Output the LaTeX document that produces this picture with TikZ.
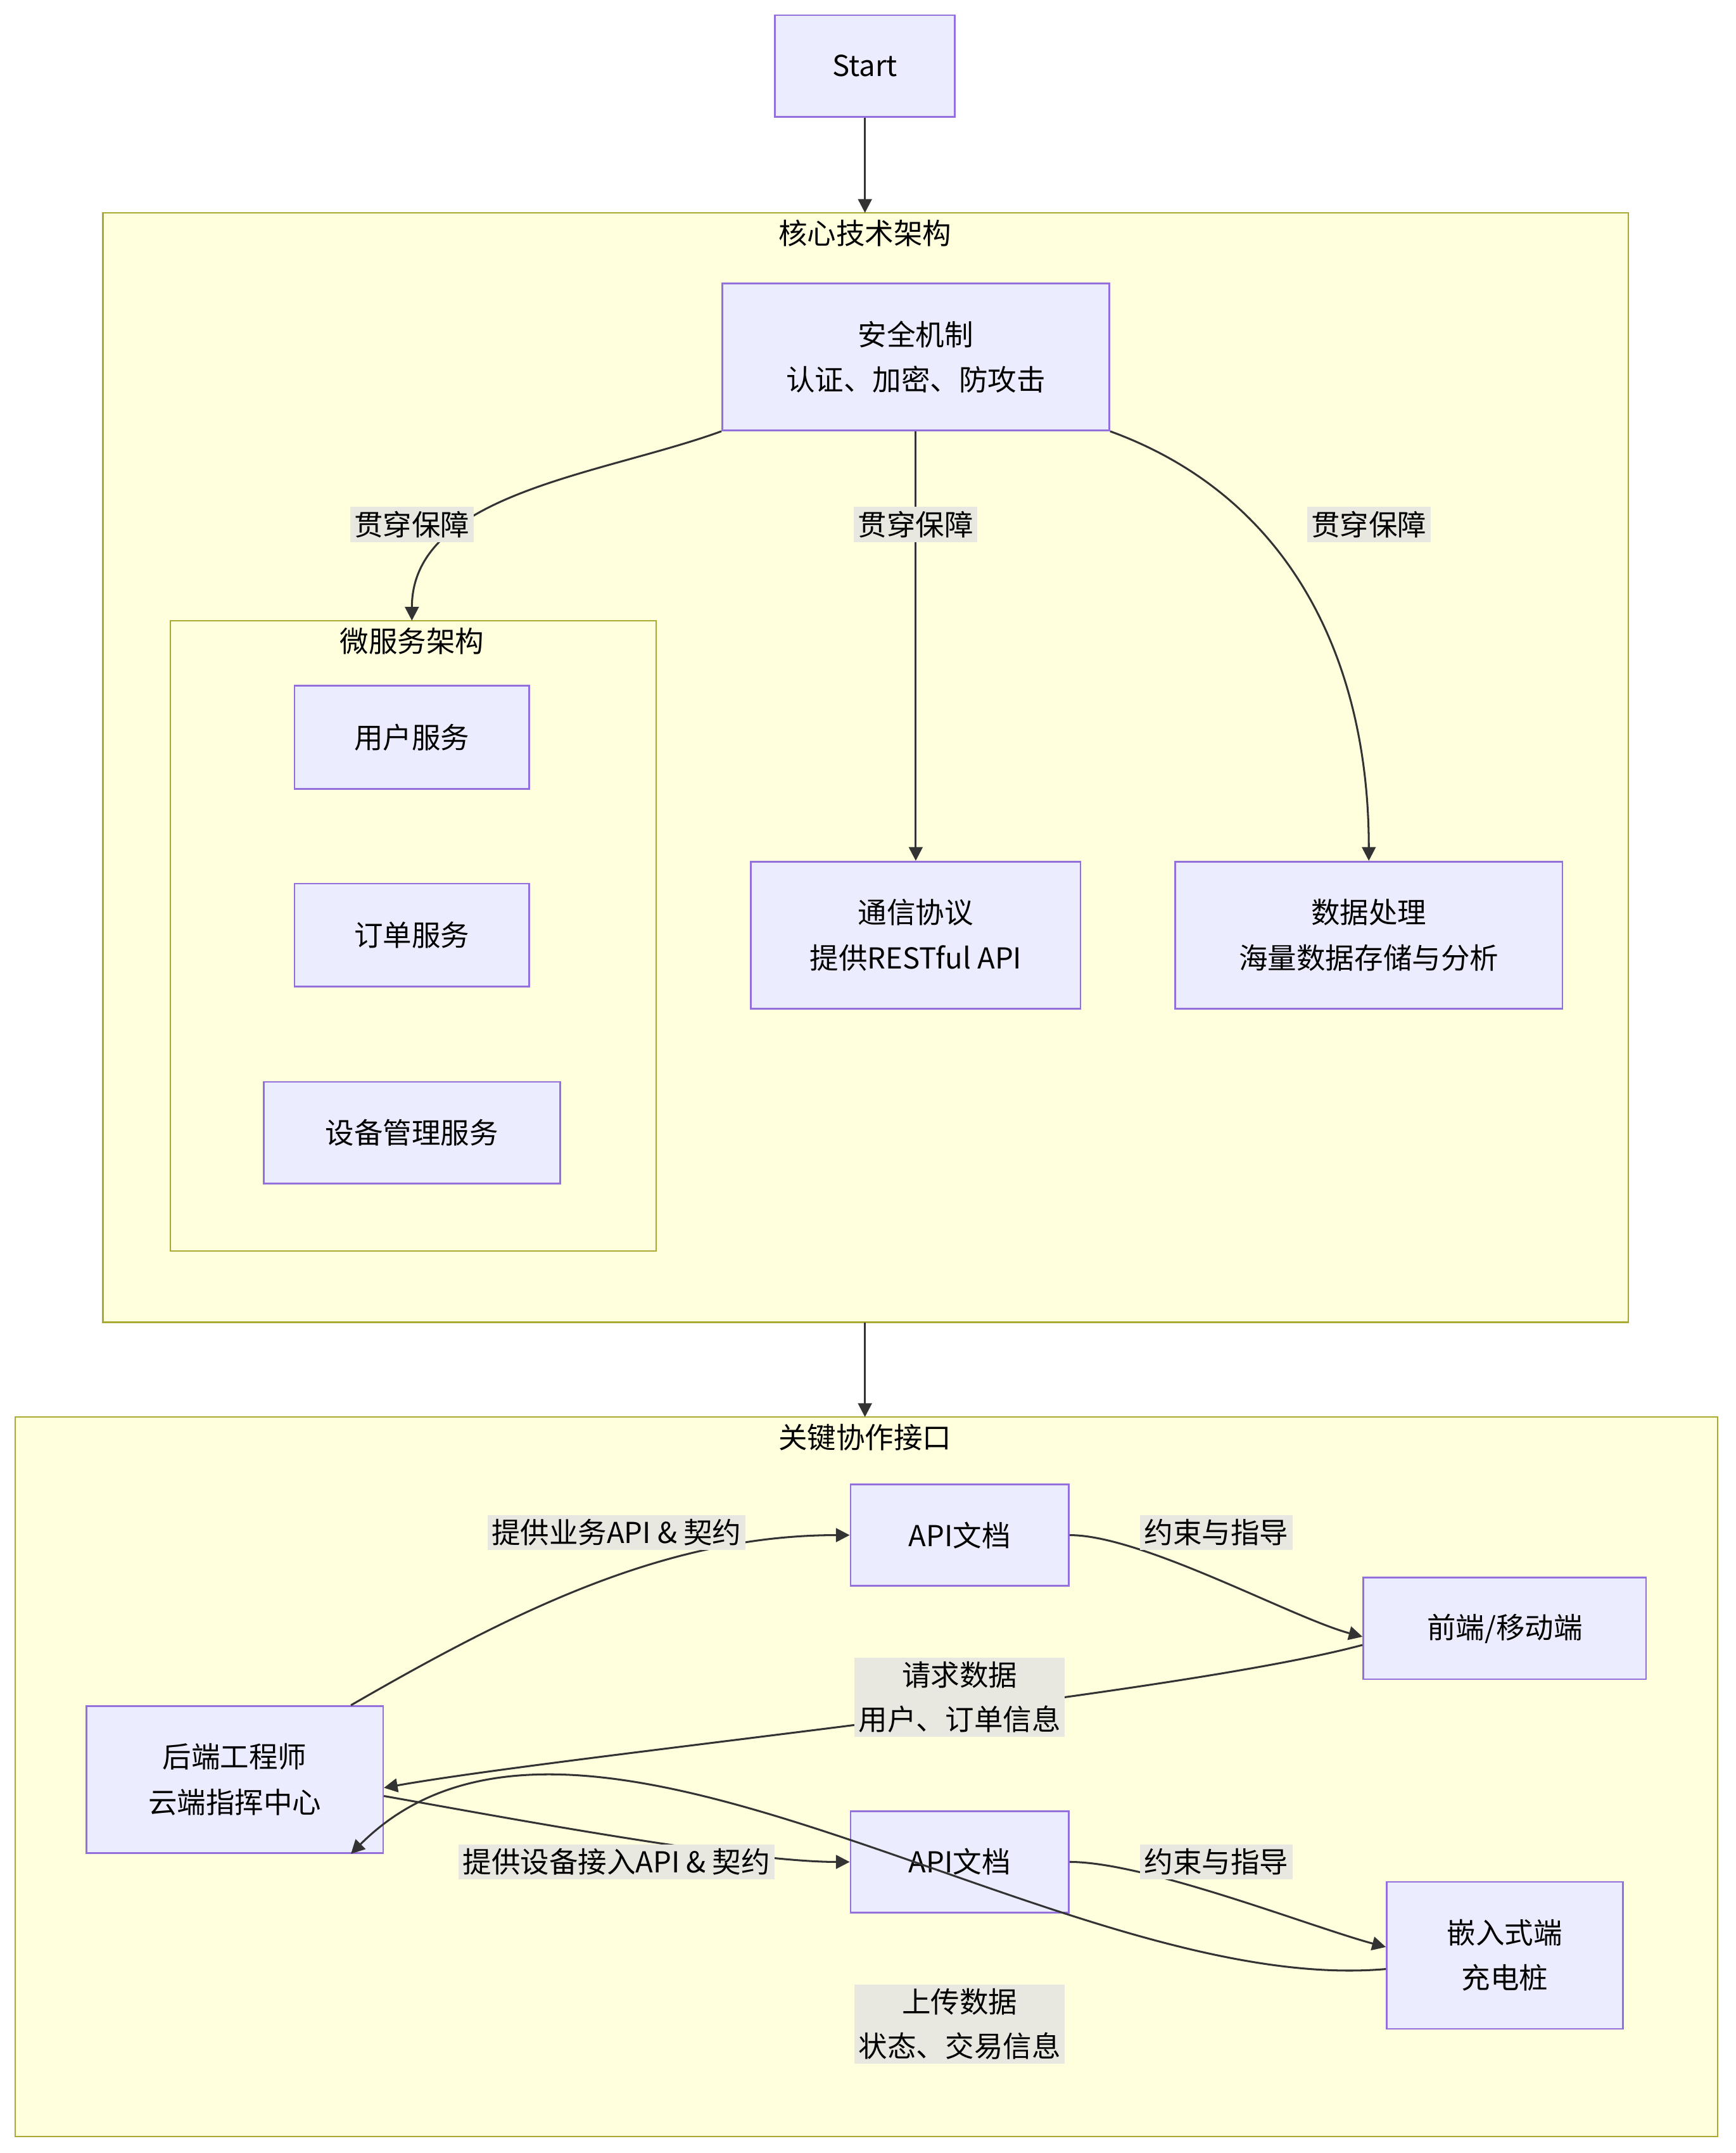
\documentclass[tikz,border=0pt]{standalone}
\usepackage{fontspec}
\setmainfont{Noto Sans CJK SC}
\usetikzlibrary{arrows.meta}
\tikzset{
  box/.style={draw=boxline,fill=boxfill,line width=0.6pt,align=center,inner sep=0pt},
  group/.style={draw=grpline,fill=grpfill,line width=0.6pt},
  lbl/.style={fill=lblfill,align=center,inner sep=1.5pt,font=\fontsize{10.5}{16}\selectfont},
  link/.style={draw=linkc,line width=0.7pt,-{Triangle[length=5pt,width=5pt]}},
}
\definecolor{boxfill}{HTML}{ECECFF}
\definecolor{boxline}{HTML}{9370DB}
\definecolor{grpfill}{HTML}{FFFFDE}
\definecolor{grpline}{HTML}{AAAA33}
\definecolor{lblfill}{HTML}{E8E8E0}
\definecolor{linkc}{HTML}{333333}
\begin{document}
\begin{tikzpicture}[x=0.5pt,y=-0.5pt,font=\fontsize{10.5}{16.5}\selectfont]

  \useasboundingbox (0,0) rectangle (1264,1568);

  % clusters
  \draw[group] (75,155) rectangle (1186,963);
  \node at (630,170) {核心技术架构};
  \draw[group] (124,452) rectangle (478,911);
  \node at (300,467) {微服务架构};
  \draw[group] (11,1032) rectangle (1251,1556);
  \node at (630,1047) {关键协作接口};
  \coordinate (coreTop) at (630,155);
  \coordinate (coreBot) at (630,963);
  \coordinate (keyTop) at (630,1032);
  \coordinate (microTop) at (300,452);

  % nodes
  \node[box,minimum width=65.5pt,minimum height=37pt] (start) at (630,48) {Start};
  \node[box,minimum width=141pt,minimum height=53.5pt] (sec) at (667,260) {安全机制\\认证、加密、防攻击};
  \node[box,minimum width=85.5pt,minimum height=37.5pt] (user) at (300,537) {用户服务};
  \node[box,minimum width=85.5pt,minimum height=37.5pt] (order) at (300,681) {订单服务};
  \node[box,minimum width=108pt,minimum height=37pt] (dev) at (300,825) {设备管理服务};
  \node[box,minimum width=120pt,minimum height=53.5pt] (comm) at (667,681) {通信协议\\提供RESTful API};
  \node[box,minimum width=141pt,minimum height=53.5pt] (data) at (997,681) {数据处理\\海量数据存储与分析};
  \node[box,minimum width=79.5pt,minimum height=37pt] (doc1) at (699,1118) {API文档};
  \node[box,minimum width=103pt,minimum height=37pt] (front) at (1096,1186) {前端/移动端};
  \node[box,minimum width=108pt,minimum height=53.5pt] (back) at (171,1296) {后端工程师\\云端指挥中心};
  \node[box,minimum width=79.5pt,minimum height=37pt] (doc2) at (699,1356) {API文档};
  \node[box,minimum width=86pt,minimum height=53.5pt] (emb) at (1096,1424) {嵌入式端\\充电桩};

  % connectors
  \draw[link] (start) -- (coreTop);
  \draw[link] (coreBot) -- (keyTop);
  \draw[link] (sec.south west) to[out=200,in=90,looseness=0.9] (microTop);
  \draw[link] (sec) -- (comm);
  \draw[link] (sec.south east) to[out=-20,in=90,looseness=1] (data);
  \draw[link] (back.north east) ++(-24,0) to[out=30,in=180,looseness=0.9] (doc1.west);
  \draw[link] (doc1.east) to[out=0,in=165,looseness=0.6] ([yshift=-3pt]front.west);
  \draw[link] ([yshift=-6pt]front.west) to[out=195,in=10,looseness=0.5] ([yshift=-3pt]back.east);
  \draw[link] ([yshift=-6pt]back.east) to[out=-10,in=180,looseness=0.6] (doc2.west);
  \draw[link] (doc2.east) to[out=0,in=165,looseness=0.6] ([yshift=3pt]emb.west);
  \draw[link] ([yshift=-5pt]emb.west) to[out=185,in=45,looseness=0.8] ([xshift=-12pt]back.south east);

  % edge labels
  \node[lbl] at (300,382) {贯穿保障};
  \node[lbl] at (667,382) {贯穿保障};
  \node[lbl] at (997,382) {贯穿保障};
  \node[lbl] at (449,1116) {提供业务API \& 契约};
  \node[lbl] at (886,1116) {约束与指导};
  \node[lbl] at (699,1236) {请求数据\\用户、订单信息};
  \node[lbl] at (449,1356) {提供设备接入API \& 契约};
  \node[lbl] at (886,1356) {约束与指导};
  \node[lbl] at (699,1474) {上传数据\\状态、交易信息};

\end{tikzpicture}
\end{document}
